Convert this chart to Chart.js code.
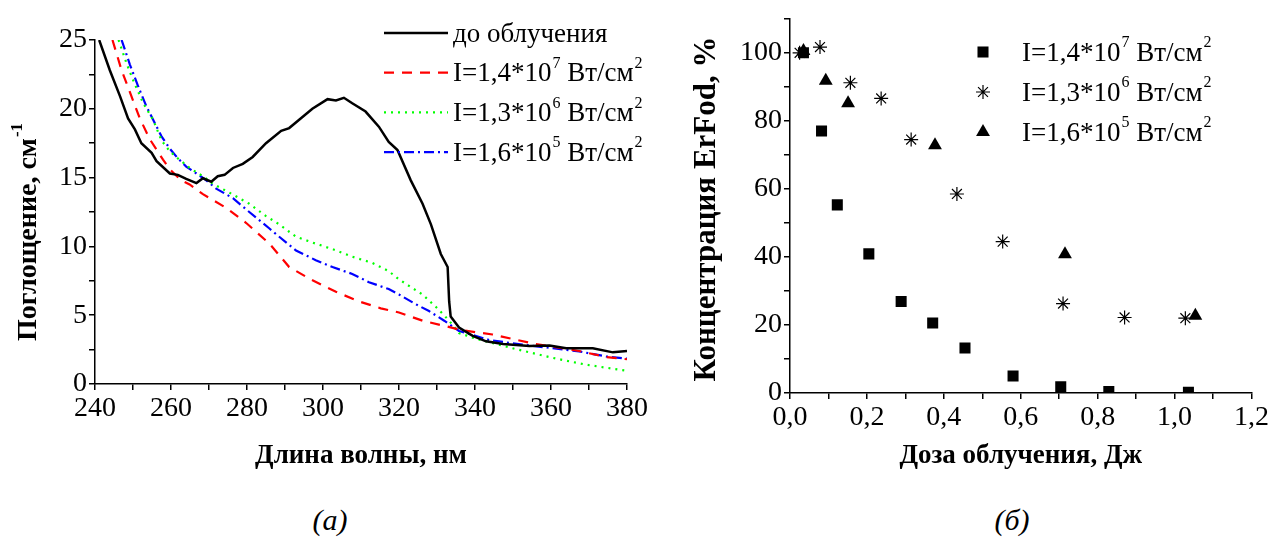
<!DOCTYPE html>
<html>
<head>
<meta charset="utf-8">
<script src="https://cdn.jsdelivr.net/npm/chart.js@4.4.0/dist/chart.umd.min.js"></script>
<style>
    body { margin: 0; background: #fff; }
    #wrap { position: relative; width: 1271px; height: 541px; }
    #boxA { position: absolute; left: 0; top: 0; width: 650px; height: 480px; }
    #boxB { position: absolute; left: 650px; top: 0; width: 621px; height: 480px; }
    .cap { position: absolute; top: 503px; font-family: "Liberation Serif", serif; font-style: italic; font-size: 30px; transform: translateX(-50%); }
</style>
</head>
<body>
<div id="wrap">
    <div id="boxA"><canvas id="grafico"></canvas></div>
    <div id="boxB"><canvas id="grafico2"></canvas></div>
    <div class="cap" style="left:330px">(а)</div>
    <div class="cap" style="left:1012px">(б)</div>
</div>
<script>
// ---- (а) спектры поглощения ----
const labelsA = ["до облучения", "I=1,4*10^7 Вт/см^2", "I=1,3*10^6 Вт/см^2", "I=1,6*10^5 Вт/см^2"];

const wlBlack = [241.1, 243.9, 246.6, 248.7, 250.5, 252.2, 254.9, 256.2, 259.7, 261.8, 264, 266.7, 268.4, 270.6, 272.3, 274.1, 276.3, 278.9, 281.5, 285, 289, 291.1, 294.6, 297.2, 301.2, 303.4, 305.5, 307.7, 311.2, 314.7, 317.3, 319.6, 323.1, 326.2, 328.4, 331, 332.8, 333.2, 333.6, 335.8, 339.4, 342.9, 347.4, 354.3, 359.6, 364, 371, 376.3, 380];
const absBlack = [25.0, 22.8, 20.9, 19.3, 18.5, 17.5, 16.8, 16.2, 15.3, 15.2, 14.9, 14.6, 14.95, 14.7, 15.1, 15.2, 15.7, 16.0, 16.5, 17.5, 18.4, 18.6, 19.4, 20.0, 20.7, 20.6, 20.8, 20.4, 19.8, 18.7, 17.6, 17.0, 14.8, 13.1, 11.6, 9.45, 8.5, 6.0, 4.9, 4.1, 3.5, 3.1, 2.9, 2.76, 2.8, 2.6, 2.6, 2.3, 2.4];

const wlRed = [244.6, 247, 249.6, 251.8, 254.4, 257.9, 259.7, 262.7, 264.9, 268.4, 274.5, 279.8, 285.9, 291.1, 296.8, 303.4, 309.5, 315.2, 320, 326.2, 332.3, 336.7, 344.6, 356, 367.4, 374.5, 380];
const absRed = [25.0, 22.8, 20.9, 19.3, 17.8, 16.3, 15.6, 14.8, 14.5, 13.8, 12.8, 11.7, 10.2, 8.5, 7.6, 6.7, 6.0, 5.5, 5.2, 4.6, 4.2, 3.9, 3.6, 2.9, 2.4, 1.96, 1.8];

const wlGreen = [246.2, 248.3, 250, 252.7, 255.3, 257.5, 259.7, 261.8, 264.9, 268.4, 271, 275.4, 280.6, 285, 288.5, 292.9, 298.1, 302.5, 307.7, 313, 317.3, 320, 326.2, 330.1, 333.2, 335.8, 340.2, 349.8, 360.4, 369.3, 380];
const absGreen = [25.0, 23.3, 22.1, 20.4, 19.2, 17.7, 16.9, 16.4, 15.7, 15.1, 14.55, 13.9, 13.1, 12.2, 11.6, 10.7, 10.2, 9.8, 9.25, 8.8, 8.2, 7.6, 6.5, 5.5, 4.6, 3.7, 3.3, 2.6, 1.9, 1.4, 0.96];

const wlBlue = [247, 249.2, 251.4, 253.5, 255.3, 257.5, 259.7, 261.8, 264, 266.7, 268.8, 271.9, 276.3, 280.6, 285.9, 287.6, 292.9, 298.1, 302.5, 307.7, 312.1, 317.3, 320, 324.4, 327.9, 331.9, 335.8, 343.7, 352.5, 360.4, 367.4, 374.5, 380];
const absBlue = [25.0, 23.2, 21.6, 20.2, 19.2, 18.0, 17.1, 16.4, 15.8, 15.3, 14.9, 14.2, 13.5, 12.5, 11.3, 10.9, 9.7, 9.0, 8.5, 8.0, 7.4, 6.9, 6.5, 5.8, 5.3, 4.6, 3.85, 3.2, 2.86, 2.6, 2.37, 2.0, 1.84];

// ---- (б) концентрация ErFod ----
const labelsB = ["I=1,4*10^7 Вт/см^2", "I=1,3*10^6 Вт/см^2", "I=1,6*10^5 Вт/см^2"];
const doseSq = [0.035, 0.082, 0.123, 0.205, 0.289, 0.371, 0.455, 0.580, 0.704, 0.829, 1.036];
const concSq = [100, 77, 55.3, 40.9, 26.9, 20.6, 13.2, 5.0, 1.8, 0.4, 0.2];
const doseStar = [0.025, 0.078, 0.157, 0.237, 0.315, 0.434, 0.553, 0.710, 0.870, 1.028];
const concStar = [100, 101.7, 91.2, 86.6, 74.5, 58.5, 44.5, 26.3, 22.2, 22.0];
const doseTri = [0.035, 0.093, 0.151, 0.377, 0.715, 1.054];
const concTri = [100.5, 91.8, 85.2, 72.8, 40.8, 22.7];

const serif = "'Liberation Serif', 'Times New Roman', serif";

function toXY(xs, ys) {
    return xs.map((x, i) => ({ x: x, y: ys[i] }));
}

// текст с верхними индексами: "10^7" -> 10 и маленькая 7 сверху
function richParts(text) {
    let parts = text.split("^");
    let out = [{ t: parts[0], sup: false }];
    for (let i = 1; i < parts.length; i++) {
        let m = parts[i].match(/^(\S+)(.*)$/);
        out.push({ t: m ? m[1] : parts[i], sup: true });
        if (m && m[2]) out.push({ t: m[2], sup: false });
    }
    return out;
}

function drawRich(ctx, text, x, y, size, weight, measureOnly) {
    let w = weight ? weight + " " : "";
    ctx.textBaseline = "alphabetic";
    ctx.textAlign = "left";
    let base = y + size * 0.32;
    let x0 = x;
    richParts(text).forEach(p => {
        if (p.sup) {
            ctx.font = w + Math.round(size * 0.6) + "px " + serif;
            if (!measureOnly) ctx.fillText(p.t, x + 1, base - size * 0.5);
            x += ctx.measureText(p.t).width + 1;
        } else {
            ctx.font = w + size + "px " + serif;
            if (!measureOnly) ctx.fillText(p.t, x, base);
            x += ctx.measureText(p.t).width;
        }
    });
    return x - x0;
}

const innerLegend = {
    id: "innerLegend",
    afterDraw(chart, args, opts) {
        const ctx = chart.ctx;
        ctx.save();
        chart.data.datasets.forEach((ds, i) => {
            let y = opts.y + i * opts.gap;
            if (opts.kind === "line") {
                ctx.strokeStyle = ds.borderColor;
                ctx.lineWidth = ds.borderWidth;
                ctx.setLineDash(ds.borderDash || []);
                ctx.beginPath();
                ctx.moveTo(opts.x, y);
                ctx.lineTo(opts.x + opts.len, y);
                ctx.stroke();
                ctx.setLineDash([]);
            } else {
                ctx.fillStyle = ds.backgroundColor;
                ctx.strokeStyle = ds.borderColor;
                ctx.lineWidth = ds.borderWidth;
                Chart.helpers.drawPoint(ctx, {
                    pointStyle: ds.pointStyle,
                    radius: ds.pointRadius,
                    rotation: 0,
                    borderWidth: ds.borderWidth
                }, opts.x, y);
            }
            ctx.fillStyle = "#000";
            drawRich(ctx, ds.label, opts.textX, y, opts.size);
        });
        ctx.restore();
    }
};

// вертикальная подпись оси (с верхним индексом)
const sideTitle = {
    id: "sideTitle",
    afterDraw(chart, args, opts) {
        const ctx = chart.ctx;
        ctx.save();
        ctx.fillStyle = "#000";
        ctx.translate(opts.x, opts.y);
        ctx.rotate(-Math.PI / 2);
        let w = drawRich(ctx, opts.text, 0, 0, opts.size, "bold", true);
        drawRich(ctx, opts.text, -w / 2, -opts.size * 0.05, opts.size, "bold");
        ctx.restore();
    }
};

function axis(min, max, step, every, fmt, tickSize) {
    return {
        type: "linear",
        min: min,
        max: max,
        border: { display: true, color: "#000", width: 1.5 },
        grid: { display: true, drawOnChartArea: false, drawTicks: true, tickLength: 6, color: "#000", lineWidth: 1.5 },
        ticks: {
            stepSize: step,
            autoSkip: false,
            maxRotation: 0,
            color: "#000",
            padding: 2,
            font: { family: serif, size: tickSize },
            callback: v => {
                let k = Math.round(v / step);
                return k % every === 0 ? fmt(v) : "";
            }
        }
    };
}

// ---- график (а) ----
let xA = axis(240, 380, 10, 2, v => String(v), 28);
xA.title = { display: true, text: "Длина волны, нм", color: "#000", font: { family: serif, size: 27, weight: "bold" }, padding: { top: 0, bottom: 8 } };
xA.afterFit = s => { s.height = 96; };

let yA = axis(0, 25, 2.5, 2, v => String(v), 28);
yA.afterFit = s => { s.width = 95; };

new Chart(document.getElementById("grafico"), {
    type: "line",
    data: {
        datasets: [
            { label: labelsA[0], data: toXY(wlBlack, absBlack), borderColor: "#000000", borderWidth: 2.5 },
            { label: labelsA[1], data: toXY(wlRed, absRed), borderColor: "#ff0000", borderWidth: 2.2, borderDash: [10, 8] },
            { label: labelsA[2], data: toXY(wlGreen, absGreen), borderColor: "#00ff00", borderWidth: 2.2, borderDash: [2, 5] },
            { label: labelsA[3], data: toXY(wlBlue, absBlue), borderColor: "#0000ff", borderWidth: 2.2, borderDash: [10, 4, 2, 4] }
        ]
    },
    options: {
        responsive: true,
        maintainAspectRatio: false,
        animation: false,
        elements: { point: { radius: 0 }, line: { tension: 0, fill: false } },
        layout: { padding: { left: 0, right: 21, top: 40, bottom: 0 } },
        plugins: {
            legend: { display: false },
            tooltip: { enabled: false },
            innerLegend: { kind: "line", x: 384, len: 64, textX: 453, y: 33, gap: 39.7, size: 27 },
            sideTitle: { text: "Поглощение, см^-1", x: 28, y: 232, size: 28 }
        },
        scales: { x: xA, y: yA }
    },
    plugins: [innerLegend, sideTitle]
});

// ---- график (б) ----
let xB = axis(0, 1.2, 0.1, 2, v => v.toFixed(1).replace(".", ","), 28);
xB.title = { display: true, text: "Доза облучения, Дж", color: "#000", font: { family: serif, size: 27, weight: "bold" }, padding: { top: 0, bottom: 8 } };
xB.afterFit = s => { s.height = 87; };

let yB = axis(0, 110, 10, 2, v => String(v), 28);
yB.afterFit = s => { s.width = 140; };

new Chart(document.getElementById("grafico2"), {
    type: "scatter",
    data: {
        datasets: [
            { label: labelsB[0], data: toXY(doseSq, concSq), pointStyle: "rect", pointRadius: 7.8, backgroundColor: "#000", borderColor: "#000", borderWidth: 0 },
            { label: labelsB[1], data: toXY(doseStar, concStar), pointStyle: "star", pointRadius: 7, backgroundColor: "#000", borderColor: "#000", borderWidth: 1.2 },
            { label: labelsB[2], data: toXY(doseTri, concTri), pointStyle: "triangle", pointRadius: 8, backgroundColor: "#000", borderColor: "#000", borderWidth: 0 }
        ]
    },
    options: {
        responsive: true,
        maintainAspectRatio: false,
        animation: false,
        layout: { padding: { left: 0, right: 18, top: 17, bottom: 0 } },
        plugins: {
            legend: { display: false },
            tooltip: { enabled: false },
            innerLegend: { kind: "point", x: 333, textX: 372, y: 52, gap: 40, size: 27 },
            sideTitle: { text: "Концентрация ErFod, %", x: 57, y: 209, size: 31 }
        },
        scales: { x: xB, y: yB }
    },
    plugins: [innerLegend, sideTitle]
});
</script>
</body>
</html>
